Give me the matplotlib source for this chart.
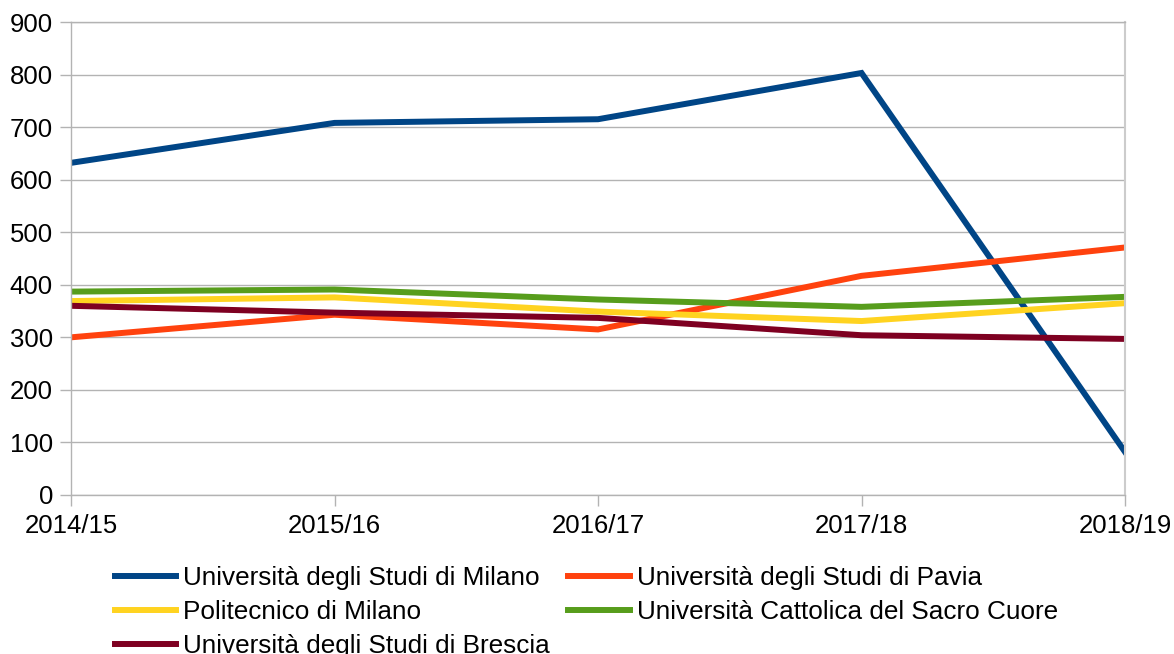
import matplotlib
matplotlib.use("Agg")
import matplotlib.pyplot as plt

plt.rcParams['font.family'] = ['Liberation Sans', 'DejaVu Sans']

years = ['2014/15', '2015/16', '2016/17', '2017/18', '2018/19']

milano = [632, 708, 715, 803, 82]
pavia = [300, 343, 315, 417, 471]
politecnico = [369, 376, 349, 331, 365]
cattolica = [387, 391, 372, 358, 377]
brescia = [360, 347, 337, 304, 297]

names = ['Università degli Studi di Milano', 'Università degli Studi di Pavia',
         'Politecnico di Milano', 'Università Cattolica del Sacro Cuore',
         'Università degli Studi di Brescia']
series = [milano, pavia, politecnico, cattolica, brescia]
colors = ['#004586', '#ff420e', '#ffd320', '#579d1c', '#7e0021']

fig = plt.figure(figsize=(11.74, 6.54), dpi=100)
ax = fig.add_axes([71 / 1174, 1 - 495 / 654, (1125 - 71) / 1174, (495 - 22) / 654])

x = list(range(len(years)))
lines = []
for s, name, c in zip(series, names, colors):
    ln, = ax.plot(x, s, color=c, lw=4.3, label=name, solid_joinstyle='miter')
    lines.append(ln)

ax.set_xlim(0, 4)
ax.set_ylim(0, 900)
ax.set_yticks(range(0, 901, 100))
ax.set_xticks(x)
ax.set_xticklabels(years)
ax.grid(axis='y', color='#b3b3b3', lw=1)
ax.set_axisbelow(True)
for sp in ax.spines.values():
    sp.set_color('#b3b3b3')
    sp.set_linewidth(1)
ax.spines['right'].set_color('#cccccc')
ax.spines['right'].set_linewidth(1.5)
ax.tick_params(axis='y', length=8, width=1, color='#b3b3b3', pad=5, labelsize=18.5)
ax.tick_params(axis='x', length=8, width=1, color='#b3b3b3', pad=5.5, labelsize=18.5)

# legend filled column-wise, so reorder to read row-wise like the original
order = [0, 2, 4, 1, 3]
fig.legend([lines[i] for i in order], [names[i] for i in order],
           loc='upper left', bbox_to_anchor=(115 / 1174, 1 - 566 / 654),
           ncol=2, frameon=False, fontsize=18.8, borderpad=0,
           handlelength=2.35, handletextpad=0.27, columnspacing=0.7,
           labelspacing=0.38, borderaxespad=0)

fig.savefig('out.png', dpi=100)
